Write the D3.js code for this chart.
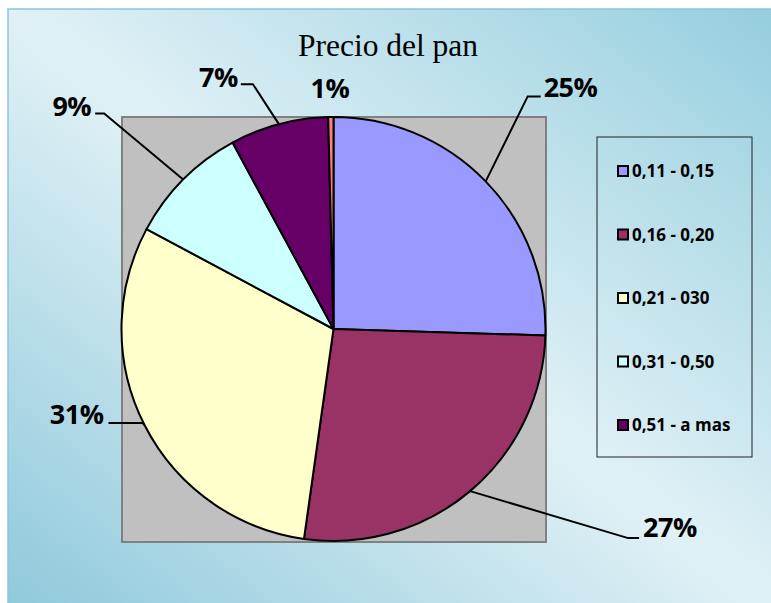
<!DOCTYPE html>
<html><head><meta charset="utf-8">
<script src="https://cdn.jsdelivr.net/npm/d3@7"></script>
<style>body{margin:0;background:#fff;overflow:hidden}</style></head>
<body>
<svg id="c" width="771" height="603"></svg>
<script>
const title = "Precio del pan";
const categories = ["0,11 - 0,15","0,16 - 0,20","0,21 - 030","0,31 - 0,50","0,51 - a mas","otros"];
const values = [25.5, 26.75, 30.6, 9.3, 7.5, 0.4];
const percentLabels = ["25%","27%","31%","9%","7%","1%"];
const colors = ["#9999FF","#993366","#FFFFCC","#CCFFFF","#660066","#FF8080"];
const legendCount = 5;

// layout (offsets from the slice's outer edge point)
const leaderLayout = [
  {b:[42,-85], h:[55,-85], t:[58,-84], anchor:"start"},
  {b:[158,47], h:[169,47], t:[173,46], anchor:"start"},
  {b:[-2,-2], h:[-36,-2], t:[-41,-1], anchor:"end"},
  {b:[-79,-66], h:[-88,-66], t:[-92,-64], anchor:"end"},
  {b:[-26,-40], h:[-38,-40], t:[-41,-37], anchor:"end"},
  {b:null, t:[-1,-19], anchor:"middle"}
];

const svg = d3.select("#c");
const defs = svg.append("defs");
const g = defs.append("linearGradient").attr("id","bg")
  .attr("x1",0).attr("y1",1).attr("x2",1).attr("y2",0);
g.append("stop").attr("offset",0).attr("stop-color","#8fc9db");
g.append("stop").attr("offset",0.5).attr("stop-color","#e0f1f6");
g.append("stop").attr("offset",1).attr("stop-color","#95cede");

svg.append("rect").attr("x",8).attr("y",9).attr("width",770).attr("height",600)
  .attr("fill","url(#bg)").attr("stroke","#8cc6d8").attr("stroke-width",1.5);

svg.append("text").attr("x",388).attr("y",56).attr("text-anchor","middle")
  .attr("font-family","'Liberation Serif','Times New Roman',serif").attr("font-size",31.5)
  .attr("fill","#000").text(title);

// plot area
svg.append("rect").attr("x",122).attr("y",117).attr("width",424).attr("height",425)
  .attr("fill","#C0C0C0").attr("stroke","#808080").attr("stroke-width",2);

const cx = 333.5, cy = 329, r = 212;
const pie = d3.pie().sort(null).value(d => d);
const arcs = pie(values);
const arc = d3.arc().innerRadius(0).outerRadius(r);
const edge = d3.arc().innerRadius(r).outerRadius(r);
const color = d3.scaleOrdinal().domain(d3.range(values.length)).range(colors);

const pg = svg.append("g").attr("transform",`translate(${cx},${cy})`);
pg.selectAll("path.s").data(arcs).join("path").attr("class","s")
  .attr("d",arc).attr("fill",(d,i)=>color(i))
  .attr("stroke","#000").attr("stroke-width",2).attr("stroke-linejoin","round");

// leaders and labels
arcs.forEach((d,i)=>{
  const e = edge.centroid(d);
  const L = leaderLayout[i];
  if (L.b) {
    const pts = [e, [e[0]+L.b[0], e[1]+L.b[1]], [e[0]+L.h[0], e[1]+L.h[1]]];
    pg.append("path").attr("d", d3.line()(pts)).attr("fill","none")
      .attr("stroke","#000").attr("stroke-width",2);
  }
  pg.append("text").attr("x",e[0]+L.t[0]).attr("y",e[1]+L.t[1])
    .attr("text-anchor",L.anchor)
    .attr("font-family","'Open Sans',sans-serif").attr("font-weight","bold")
    .attr("font-size",27).attr("letter-spacing",-0.5).attr("fill","#000")
    .text(percentLabels[i]);
});

// legend
const lg = svg.append("g");
lg.append("rect").attr("x",597).attr("y",137).attr("width",155).attr("height",320)
  .attr("fill","none").attr("stroke","#202020").attr("stroke-width",1);
const ly = d3.scalePoint().domain(d3.range(legendCount)).range([171,425]);
d3.range(legendCount).forEach(i=>{
  lg.append("rect").attr("x",618).attr("y",ly(i)-5).attr("width",10).attr("height",10)
    .attr("fill",color(i)).attr("stroke","#000").attr("stroke-width",2);
  lg.append("text").attr("x",632).attr("y",ly(i)).attr("dy","0.36em")
    .attr("font-family","'Open Sans',sans-serif").attr("font-weight","bold")
    .attr("font-size",17).attr("letter-spacing",0).attr("fill","#000").text(categories[i]);
});
</script>
</body></html>
